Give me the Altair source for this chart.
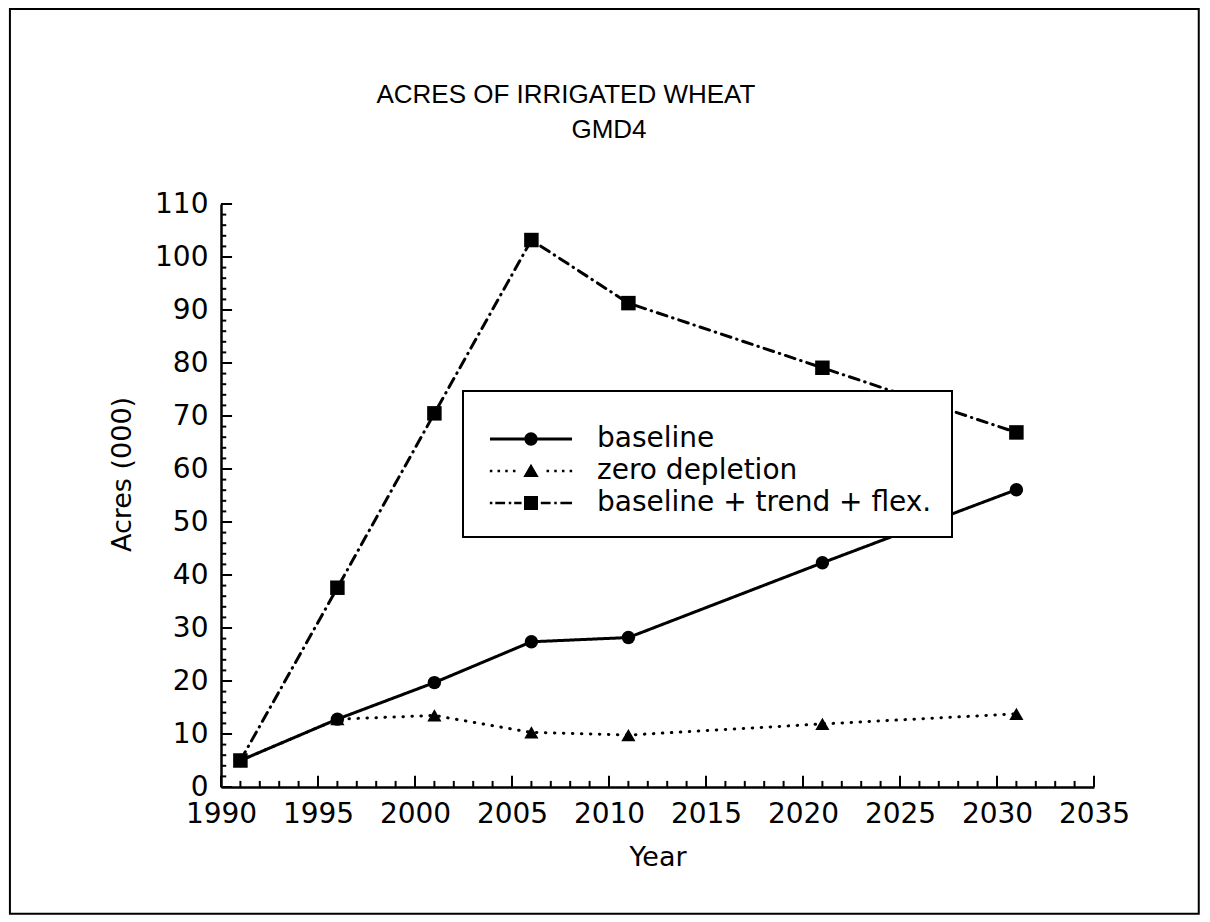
import altair as alt
import pandas as pd

# ---------------- data ----------------
years = [1991, 1996, 2001, 2006, 2011, 2021, 2031]
baseline = [5.0, 12.8, 19.7, 27.4, 28.2, 42.3, 56.1]
zero_depletion = [5.0, 12.8, 13.5, 10.3, 9.8, 11.9, 13.8]
trend_flex = [5.0, 37.6, 70.5, 103.2, 91.3, 79.1, 66.9]

series_names = ["baseline", "zero depletion", "baseline + trend + flex."]
x_tick_labels = [1990, 1995, 2000, 2005, 2010, 2015, 2020, 2025, 2030, 2035]
y_tick_labels = [0, 10, 20, 30, 40, 50, 60, 70, 80, 90, 100, 110]
x_minor_ticks = list(range(1990, 2036))
y_minor_ticks = list(range(0, 111, 2))

title_text = "ACRES OF IRRIGATED WHEAT"
subtitle_text = "GMD4"
x_title = "Year"
y_title = "Acres (000)"

# ---------------- build tables ----------------
rows = []
for name, vals in zip(series_names, [baseline, zero_depletion, trend_flex]):
    for yr, v in zip(years, vals):
        rows.append({"year": yr, "value": v, "series": name})
df = pd.DataFrame(rows)

W, H = 873, 583
FONT = "DejaVu Sans"

# inward tick lengths (in data units of the other axis)
X_MAJOR_LEN, X_MINOR_LEN = 2.1, 1.15     # y-units for x-axis ticks
Y_MAJOR_LEN, Y_MINOR_LEN = 0.57, 0.27    # year-units for y-axis ticks

xtick_df = pd.DataFrame({
    "tx": x_minor_ticks,
    "ty0": [0.0] * len(x_minor_ticks),
    "ty1": [X_MAJOR_LEN if v % 5 == 0 else X_MINOR_LEN for v in x_minor_ticks],
})
ytick_df = pd.DataFrame({
    "ty": y_minor_ticks,
    "tx0": [1990.0] * len(y_minor_ticks),
    "tx1": [1990 + (Y_MAJOR_LEN if v % 10 == 0 else Y_MINOR_LEN) for v in y_minor_ticks],
})

xs = alt.Scale(domain=[1990, 2035], nice=False, zero=False)
ys = alt.Scale(domain=[0, 110], nice=False, zero=False)

# ---------------- legend symbols (line sample + marker) ----------------
def box(x0, x1, h):
    return f"M{x0},{-h}L{x1},{-h}L{x1},{h}L{x0},{h}Z"

def dot(cx, s=0.18):
    return box(cx - s, cx + s, s)

def circle(r):
    return f"M{r},0A{r},{r} 0 1,1 {-r},0A{r},{r} 0 1,1 {r},0Z"

path_base = box(-5.86, -0.8, 0.21) + box(0.8, 5.86, 0.21) + circle(0.95)
path_zero = "".join(dot(c) for c in [-5.7, -4.6, -3.5, -2.4, 2.4, 3.5, 4.6, 5.7]) + "M0,-1.05L1.1,0.85L-1.1,0.85Z"
path_trend = (dot(-5.7) + box(-5.1, -3.7, 0.18) + dot(-3.0) + box(-2.4, -1.35, 0.18)
              + box(-1.0, 1.0, 1.0) + box(1.4, 2.8, 0.18) + dot(3.5) + box(4.2, 5.86, 0.18))

# ---------------- axes (labels + domain only; same object on every layer) ----------------
bottom_axis = alt.Axis(orient="bottom", values=x_tick_labels, format="d", title=x_title,
                       ticks=False, domain=True, domainColor="black", domainWidth=2.5, grid=False,
                       labelFont=FONT, labelFontSize=28, labelColor="black", labelPadding=13,
                       labelFlush=False, labelOverlap=False,
                       titleFont=FONT, titleFontSize=27, titleFontWeight="normal",
                       titleColor="black", titlePadding=16)
left_axis = alt.Axis(orient="left", values=y_tick_labels, format="d", title=y_title,
                     ticks=False, domain=True, domainColor="black", domainWidth=2.5, grid=False,
                     labelFont=FONT, labelFontSize=28, labelColor="black", labelPadding=13,
                     labelFlush=False, labelOverlap=False,
                     titleFont=FONT, titleFontSize=27, titleFontWeight="normal",
                     titleColor="black", titlePadding=18, titleY=270)

X = lambda f: alt.X(f, type="quantitative", scale=xs, axis=bottom_axis)
Y = lambda f: alt.Y(f, type="quantitative", scale=ys, axis=left_axis)

base = alt.Chart(df)

def line(name, dash):
    return base.transform_filter(alt.datum.series == name).mark_line(
        color="black", strokeWidth=3, strokeCap="round", strokeDash=dash
    ).encode(x=X("year"), y=Y("value"))

line_zero = line("zero depletion", [0.5, 8.5])
line_base = line("baseline", [1, 0])
line_trend = line("baseline + trend + flex.", [10, 6, 0.5, 6])

def markers(name, shape, size):
    return base.transform_filter(alt.datum.series == name).mark_point(
        shape=shape, filled=True, size=size, color="black", opacity=1
    ).encode(x=X("year"), y=Y("value"))

tri = markers("zero depletion", "triangle-up", 200)
circ = markers("baseline", "circle", 180)
sq = markers("baseline + trend + flex.", "square", 210)

legend_layer = base.mark_point(filled=True, size=0, color="black", opacity=1).encode(
    x=X("year"),
    y=Y("value"),
    shape=alt.Shape("series:N",
                    scale=alt.Scale(domain=series_names, range=[path_base, path_zero, path_trend]),
                    legend=alt.Legend(orient="none", legendX=242, legendY=187,
                                      title="\u00a0", titleFontSize=8, titlePadding=6,
                                      padding=20, rowPadding=4, strokeColor="black",
                                      fillColor="white", symbolSize=196, symbolOffset=34,
                                      labelOffset=52, labelFont=FONT, labelFontSize=28,
                                      labelColor="black", labelLimit=600,
                                      symbolFillColor="black", symbolStrokeWidth=0,
                                      symbolOpacity=1)),
)

xticks = alt.Chart(xtick_df).mark_rule(color="black", strokeWidth=2).encode(
    x=X("tx"), y=Y("ty0"), y2=alt.Y2("ty1"),
)
yticks = alt.Chart(ytick_df).mark_rule(color="black", strokeWidth=2).encode(
    y=Y("ty"), x=X("tx0"), x2=alt.X2("tx1"),
)

text_df = pd.DataFrame({"t": [title_text]})
title_layer = alt.Chart(text_df).mark_text(
    font="Liberation Sans", fontSize=26,
    align="center", baseline="alphabetic", color="black"
).encode(
    text="t:N",
    x=alt.XDatum(2007.78, scale=xs, axis=bottom_axis),
    y=alt.YDatum(129.06, scale=ys, axis=left_axis),
)

sub_df = pd.DataFrame({"t": [subtitle_text]})
subtitle_layer = alt.Chart(sub_df).mark_text(
    font="Liberation Sans", fontSize=26,
    align="center", baseline="alphabetic", color="black"
).encode(
    text="t:N",
    x=alt.XDatum(2010.0, scale=xs, axis=bottom_axis),
    y=alt.YDatum(122.45, scale=ys, axis=left_axis),
)

frame_df = pd.DataFrame({"f": [0]})
frame = alt.Chart(frame_df).mark_rect(fillOpacity=0, stroke="black", strokeWidth=2).encode(
    x=alt.XDatum(1979.12, scale=xs, axis=bottom_axis),
    x2=alt.X2Datum(2040.4),
    y=alt.YDatum(146.79, scale=ys, axis=left_axis),
    y2=alt.Y2Datum(-23.9),
)

chart = alt.layer(
    frame, line_zero, line_base, line_trend, tri, circ, sq,
    legend_layer, title_layer, subtitle_layer, xticks, yticks
).properties(
    width=W, height=H, padding=0, background="white"
).configure_view(
    strokeWidth=0
).configure_legend(
    strokeWidth=2
)

chart.save("out.html", embed_options={"renderer": "svg", "actions": False})
